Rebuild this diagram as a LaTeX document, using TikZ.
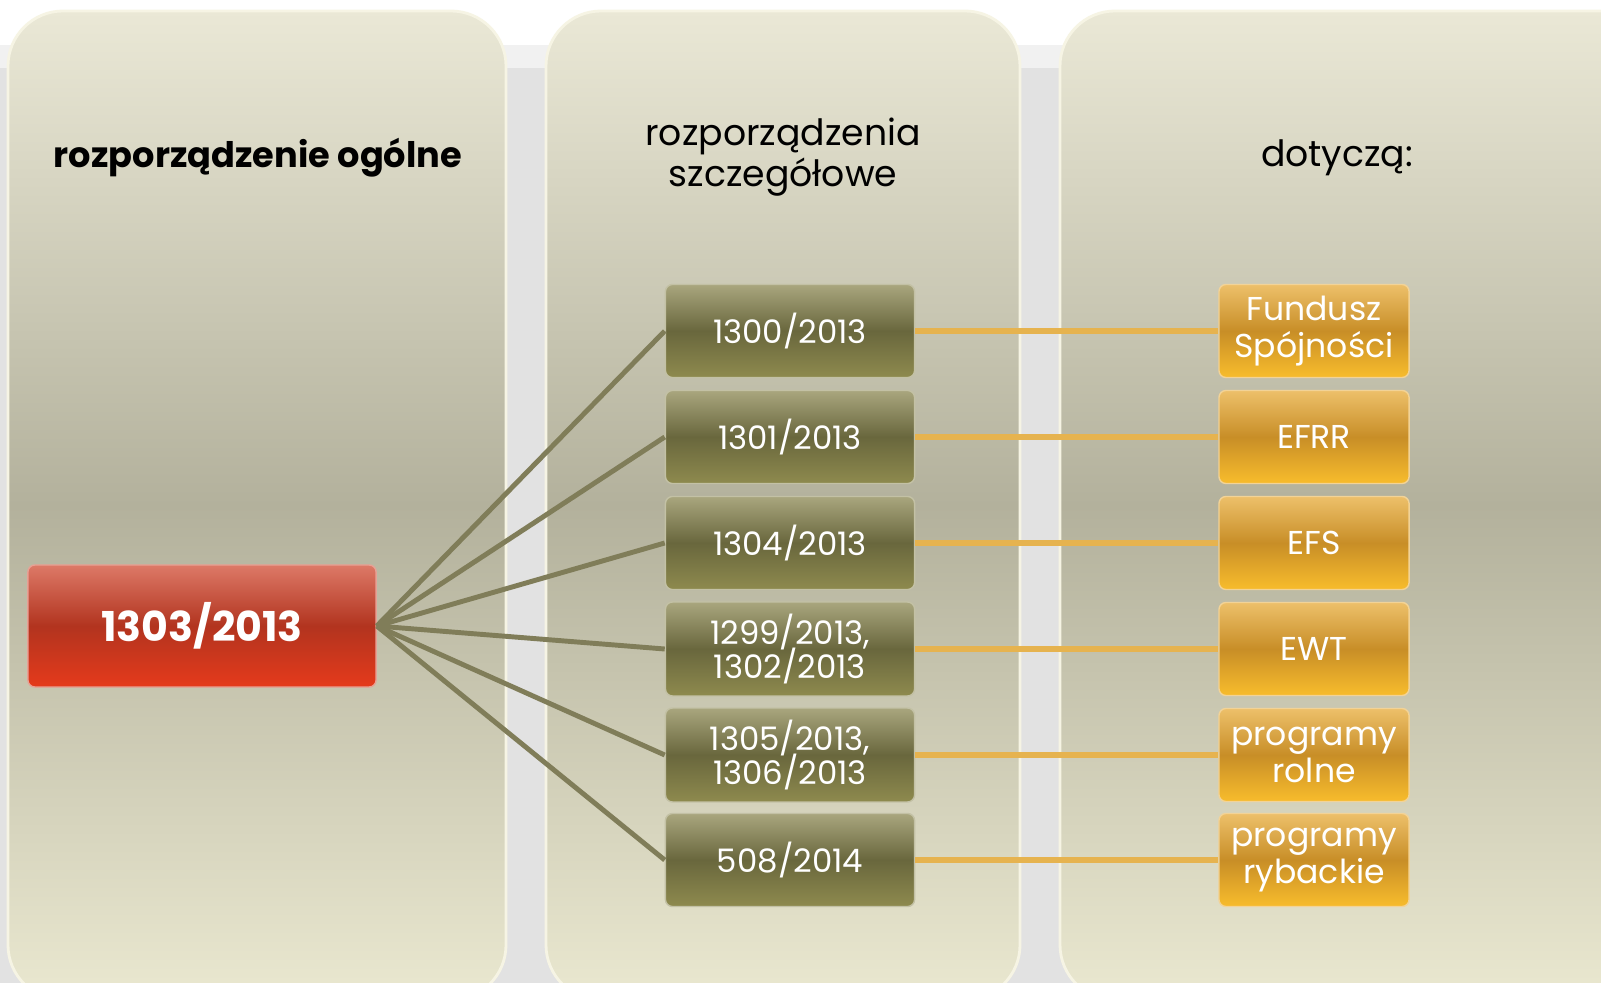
\documentclass[tikz,border=0pt]{standalone}
\usepackage{fontspec}
\setmainfont{Poppins}
\usepackage{tikz}

\definecolor{bggray}{HTML}{E2E2E2}
\definecolor{bglight}{HTML}{F1F1F1}
\definecolor{paneltop}{HTML}{EAE8D6}
\definecolor{panelmid}{HTML}{B3B19C}
\definecolor{panelbot}{HTML}{EAE8D0}
\definecolor{panelrim}{HTML}{F6F4E4}
\definecolor{olivetop}{HTML}{A9A67E}
\definecolor{olivemid}{HTML}{69673D}
\definecolor{olivebot}{HTML}{8E8A4E}
\definecolor{redtop}{HTML}{DD7967}
\definecolor{redmid}{HTML}{B2341F}
\definecolor{redbot}{HTML}{E53A1B}
\definecolor{orangetop}{HTML}{EDC06A}
\definecolor{orangemid}{HTML}{C88E27}
\definecolor{orangebot}{HTML}{F8BC2C}
\definecolor{olivelink}{HTML}{807D59}
\definecolor{orangelink}{HTML}{E6B34F}

\begin{document}
\begin{tikzpicture}[x=0.01cm,y=-0.01cm,
    panel/.style={rounded corners=0.55cm,top color=paneltop,bottom color=panelbot,middle color=panelmid,draw=panelrim,line width=0.8pt},
    mainbox/.style={rounded corners=2pt,minimum width=3.48cm,minimum height=1.22cm,top color=redtop,bottom color=redbot,middle color=redmid,draw=redtop!70!white,line width=0.4pt,text=white,font=\bfseries\fontsize{11.7}{13}\selectfont},
    regbox/.style={rounded corners=2pt,minimum width=2.49cm,minimum height=0.93cm,top color=olivetop,bottom color=olivebot,middle color=olivemid,draw=olivetop!70!white,line width=0.4pt,text=white,align=center,font=\fontsize{9.2}{9.6}\selectfont},
    fundbox/.style={rounded corners=2pt,minimum width=1.9cm,minimum height=0.93cm,top color=orangetop,bottom color=orangebot,middle color=orangemid,draw=orangetop!70!white,line width=0.4pt,text=white,align=center,font=\fontsize{9.4}{10.3}\selectfont},
    title/.style={align=center,text=black,font=\fontsize{10.3}{11.7}\selectfont},
    olive/.style={draw=olivelink,line width=1.4pt},
    orange/.style={draw=orangelink,line width=1.85pt}]
        % 背景
        \useasboundingbox (0,0) rectangle (1601,983);
        \fill[white](0,0) rectangle (1601,983);
        \fill[bggray](0,45) rectangle (1601,983);
        \fill[bglight](0,45) rectangle (1601,68);
        % 三个面板
        \path[panel](8,11) rectangle (506,1000);
        \path[panel](546,11) rectangle (1020,1000);
        \path[panel](1060,11) rectangle (1660,1000);
        % 标题
        \node[title,font=\bfseries\fontsize{10}{11.7}\selectfont](tgen)at(258,158){rozporządzenie ogólne};
        \node[title](tdet)at(783,157){rozporządzenia\\szczegółowe};
        \node[title](tcon)at(1337,158){dotyczą:};
        % 总条例
        \node[mainbox](main)at(202,626){1303/2013};
        % 细则条例
        \node[regbox](r1300)at(790,331){1300/2013};
        \node[regbox](r1301)at(790,437){1301/2013};
        \node[regbox](r1304)at(790,543){1304/2013};
        \node[regbox](r1299)at(790,649){1299/2013,\\[-1.4pt]1302/2013};
        \node[regbox](r1305)at(790,755){1305/2013,\\[-1.4pt]1306/2013};
        \node[regbox](r508)at(790,860){508/2014};
        % 基金
        \node[fundbox](fs)at(1314,331){Fundusz\\Spójności};
        \node[fundbox](efrr)at(1314,437){EFRR};
        \node[fundbox](efs)at(1314,543){EFS};
        \node[fundbox](ewt)at(1314,649){EWT};
        \node[fundbox](rol)at(1314,755){programy\\rolne};
        \node[fundbox](ryb)at(1314,860){programy\\rybackie};
        % 连线
        \draw[olive](main.east)--(r1300.west);
        \draw[olive](main.east)--(r1301.west);
        \draw[olive](main.east)--(r1304.west);
        \draw[olive](main.east)--(r1299.west);
        \draw[olive](main.east)--(r1305.west);
        \draw[olive](main.east)--(r508.west);
        \draw[orange](r1300.east)--(fs.west);
        \draw[orange](r1301.east)--(efrr.west);
        \draw[orange](r1304.east)--(efs.west);
        \draw[orange](r1299.east)--(ewt.west);
        \draw[orange](r1305.east)--(rol.west);
        \draw[orange](r508.east)--(ryb.west);
    \end{tikzpicture}
\end{document}
